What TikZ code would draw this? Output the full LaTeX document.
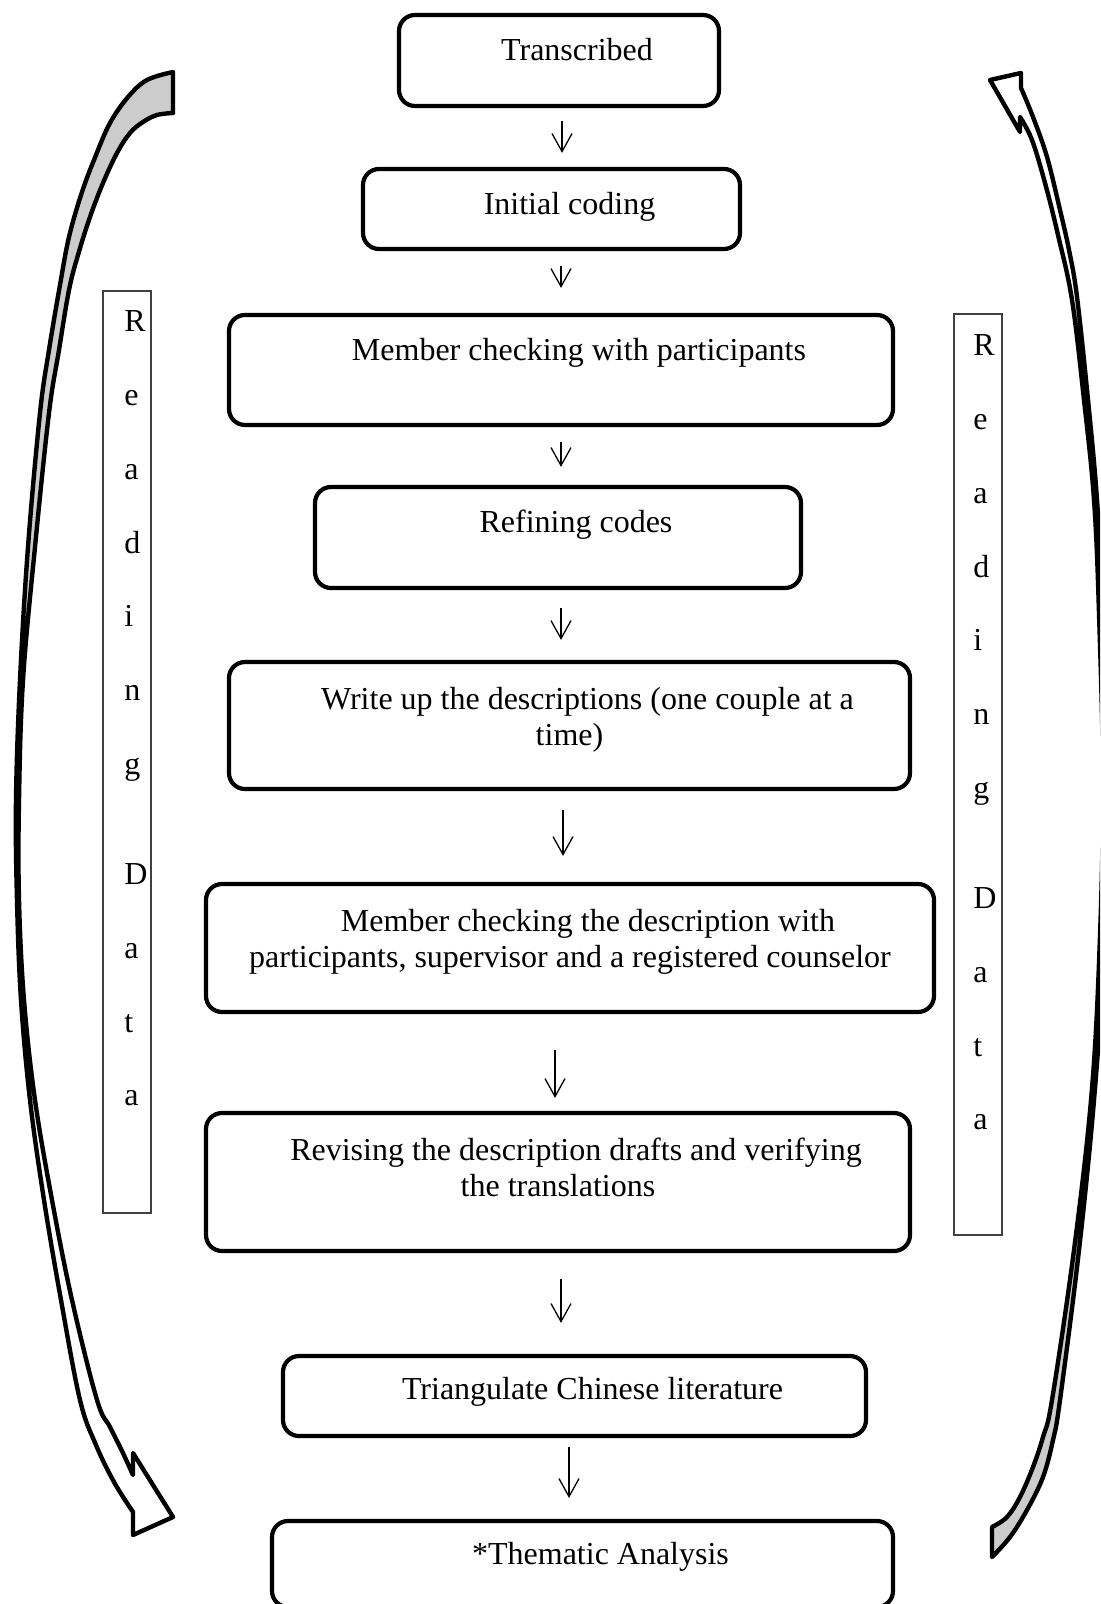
\documentclass[tikz,border=0pt]{standalone}
\usepackage{fontspec}
\setmainfont{Liberation Serif}
\usetikzlibrary{arrows.meta,fit,positioning}

% first line of every stage text is indented
\newcommand\firstind{\hspace*{18pt}\strut}

% outlines of the two curved ribbon arrows
\newcommand\LeftRibbonPath{%
  plot[smooth, tension=0.6] coordinates {(173,72) (147,80) (128,97) (110,123) (96,155) (82,192) (69,237) (60,285) (49,350) (40,413) (28,547) (20,680) (16,800) (17,900) (21,1000) (30,1100) (44,1200) (61,1300) (80,1400) (96,1445) (114,1482) (133,1512)}
  -- (133,1535) -- (173,1517) -- (133,1453) -- (133,1475)
  -- plot[smooth, tension=0.6] coordinates {(133,1475) (122,1451) (110,1427) (97,1400) (72,1300) (52,1200) (35,1100) (24,1000) (19,900) (19,800) (23,680) (35,547) (49,413) (59,350) (69,290) (78,255) (90,217) (103,183) (117,153) (130,133) (143,122) (157,115) (173,113)}
  -- cycle}
\newcommand\RightRibbonPath{%
  plot[smooth, tension=0.6] coordinates {(1021,88) (1033,117) (1047,157) (1060,210) (1069,250) (1077,297) (1088,400) (1097,500) (1103,613) (1107,790) (1103,963) (1094,1100) (1079,1250) (1060,1400) (1053,1440) (1043,1477) (1027,1510) (1010,1537) (992,1557)}
  -- (992,1527)
  -- plot[smooth, tension=0.6] coordinates {(992,1527) (1007,1517) (1020,1497) (1033,1467) (1043,1437) (1052,1400) (1074,1250) (1091,1100) (1099,963) (1103,790) (1099,613) (1094,500) (1084,400) (1072,300) (1058,235) (1045,183) (1032,140) (1020,117)}
  -- (1020,132) -- (990,80) -- (1021,73) -- cycle}

\begin{document}
\begin{tikzpicture}[x=0.5pt,y=-0.5pt,
  stage/.style={draw, line width=2.1pt, rounded corners=8pt, inner sep=0pt},
  stagetext/.style={inner sep=0pt, align=center, font=\fontsize{16}{18}\selectfont},
  readbox/.style={draw=black!75, line width=0.6pt, inner sep=0pt},
  letter/.style={inner sep=0pt, anchor=base west, font=\fontsize{16}{18}\selectfont},
  flow/.style={line width=0.65pt, -{Straight Barb[length=9pt,width=10pt]}},
  ribbon/.style={line width=2.2pt, line join=round}]

\useasboundingbox (0,0) rectangle (1100,1604);
\begin{scope}
\clip (0,0) rectangle (1100,1604);

% curved ribbon arrows on both sides
\begin{scope}
  \clip (0,0) rectangle (300,880);
  \fill[black!20] \LeftRibbonPath;
\end{scope}
\draw[ribbon] \LeftRibbonPath;
\begin{scope}
  \clip (900,1250) rectangle (1100,1604);
  \fill[black!20] \RightRibbonPath;
\end{scope}
\draw[ribbon] \RightRibbonPath;

% stages
\node[stage, fit={(399,15) (719,106)}] (b1) {};
\node[stage, fit={(363,169) (740,249)}] (b2) {};
\node[stage, fit={(229,315) (893,425)}] (b3) {};
\node[stage, fit={(315,487) (801,588)}] (b4) {};
\node[stage, fit={(229,662) (910,789)}] (b5) {};
\node[stage, fit={(206,884) (934,1012)}] (b6) {};
\node[stage, fit={(206,1113) (910,1251)}] (b7) {};
\node[stage, fit={(283,1356) (866,1436)}] (b8) {};
\node[stage, fit={(272,1521) (893,1607)}] (b9) {};

\node[stagetext, below=11.2pt of b1.north] (t1) {\firstind Transcribed};
\node[stagetext, below=11.2pt of b2.north] (t2) {\firstind Initial coding};
\node[stagetext, below=11.2pt of b3.north] (t3) {\firstind Member checking with participants};
\node[stagetext, below=11.2pt of b4.north] (t4) {\firstind Refining codes};
\node[stagetext, below=12.2pt of b5.north] (t5) {\firstind Write up the descriptions (one couple at a\\time)};
\node[stagetext, below=12.2pt of b6.north] (t6) {\firstind Member checking the description with\\participants, supervisor and a registered counselor};
\node[stagetext, below=12.2pt of b7.north] (t7) {\firstind Revising the description drafts and verifying\\the translations};
\node[stagetext, below=10.2pt of b8.north] (t8) {\firstind Triangulate Chinese literature};
\node[stagetext, below=10.2pt of b9.north] (t9) {\firstind *Thematic Analysis};

% vertical "Reading Data" boxes
\node[readbox, fit={(103,291) (151,1213)}] (rl) {};
\node[readbox, fit={(954,314) (1002,1235)}] (rr) {};
\foreach \c/\k [count=\i] in {R/0,e/1,a/2,d/3,i/4,n/5,g/6,D/7.5,a/8.5,t/9.5,a/10.5} {
  \node[letter] (l\i) at (124,332+73.7*\k) {\c};
  \node[letter] (r\i) at (973,356+73.7*\k) {\c};
}

% arrows between stages
\coordinate (x1) at (562,0);
\coordinate (x2) at (561,0);
\coordinate (x5) at (563,0);
\coordinate (x6) at (555,0);
\coordinate (x8) at (569,0);
\draw[flow, shorten <=6.5pt, shorten >=7pt]    (b1.south -| x1) -- (b2.north -| x1);
\draw[flow, shorten <=7.5pt, shorten >=12.5pt] (b2.south -| x2) -- (b3.north -| x2);
\draw[flow, shorten <=7.5pt, shorten >=9pt]    (b3.south -| x2) -- (b4.north -| x2);
\draw[flow, shorten <=9pt,   shorten >=10pt]   (b4.south -| x2) -- (b5.north -| x2);
\draw[flow, shorten <=9.5pt, shorten >=13pt]   (b5.south -| x5) -- (b6.north -| x5);
\draw[flow, shorten <=18pt,  shorten >=6.5pt]  (b6.south -| x6) -- (b7.north -| x6);
\draw[flow, shorten <=13pt,  shorten >=15.5pt] (b7.south -| x2) -- (b8.north -| x2);
\draw[flow, shorten <=4.5pt, shorten >=10.5pt] (b8.south -| x8) -- (b9.north -| x8);
\end{scope}
\end{tikzpicture}
\end{document}
